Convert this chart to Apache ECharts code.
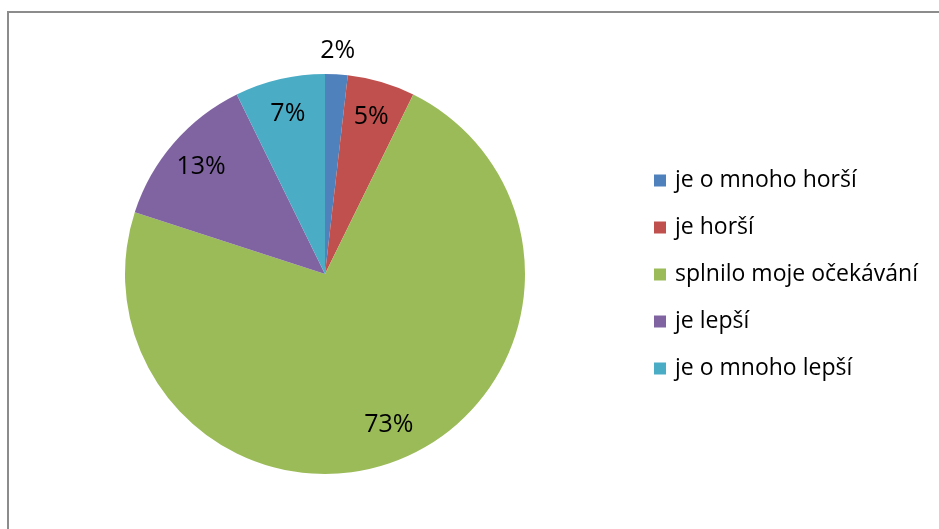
<!DOCTYPE html>
<html>
<head>
<meta charset="utf-8">
<script src="https://cdn.jsdelivr.net/npm/echarts@6/dist/echarts.min.js"></script>
<style>
  html, body { margin: 0; padding: 0; background: #fff; }
  #chart { width: 939px; height: 529px; }
</style>
</head>
<body>
<div id="chart"></div>
<script>
// odpovědi (počet respondentů)
var categories = ["je o mnoho horší", "je horší", "splnilo moje očekávání", "je lepší", "je o mnoho lepší"];
var counts = [1, 3, 40, 7, 4];
var colors = ["#4F81BD", "#C0504D", "#9BBB59", "#8064A2", "#4BACC6"];
// slices whose label sits outside the pie
var outsideLabel = ["je o mnoho horší"];

var total = counts.reduce(function (a, b) { return a + b; }, 0);
var fontFamily = "'Open Sans', 'Liberation Sans', sans-serif";

function pct(v) {
  return Math.round(v / total * 100) + "%";
}

var pieData = categories.map(function (name, i) {
  return { name: name, value: counts[i], itemStyle: { color: colors[i] } };
});

// transparent copies only used to place the percent labels
function labelData(outside) {
  return categories.map(function (name, i) {
    var show = outsideLabel.indexOf(name) >= 0 ? outside : !outside;
    return {
      name: name,
      value: counts[i],
      label: { show: show }
    };
  });
}

var labelStyle = {
  position: "inside",
  color: "#000",
  fontSize: 25,
  fontFamily: fontFamily,
  formatter: function (p) { return pct(p.value); }
};

var chart = echarts.init(document.getElementById("chart"));
chart.setOption({
  animation: false,
  graphic: [
    {
      type: "rect",
      shape: { x: 8, y: 12, width: 1000, height: 1000 },
      style: { fill: "none", stroke: "#8c8c8c", lineWidth: 2 },
      silent: true
    }
  ],
  legend: {
    orient: "vertical",
    left: 654,
    top: 169,
    padding: 0,
    itemWidth: 12,
    itemHeight: 12,
    itemGap: 24,
    icon: "rect",
    data: categories,
    textStyle: { color: "#000", fontSize: 23, fontFamily: fontFamily, padding: [0, 0, 0, 4] }
  },
  series: [
    {
      type: "pie",
      center: [325, 274],
      radius: [0, 200],
      startAngle: 90,
      clockwise: true,
      label: { show: false },
      labelLine: { show: false },
      itemStyle: { borderWidth: 0 },
      emphasis: { disabled: true },
      data: pieData
    },
    {
      type: "pie",
      center: [325, 274],
      radius: [0, 322],
      startAngle: 90,
      clockwise: true,
      silent: true,
      legendHoverLink: false,
      itemStyle: { color: "rgba(0,0,0,0)" },
      label: labelStyle,
      labelLine: { show: false },
      data: labelData(false)
    },
    {
      type: "pie",
      center: [325, 274],
      radius: [0, 440],
      startAngle: 90,
      clockwise: true,
      silent: true,
      legendHoverLink: false,
      itemStyle: { color: "rgba(0,0,0,0)" },
      label: labelStyle,
      labelLine: { show: false },
      data: labelData(true)
    }
  ]
});
</script>
</body>
</html>
